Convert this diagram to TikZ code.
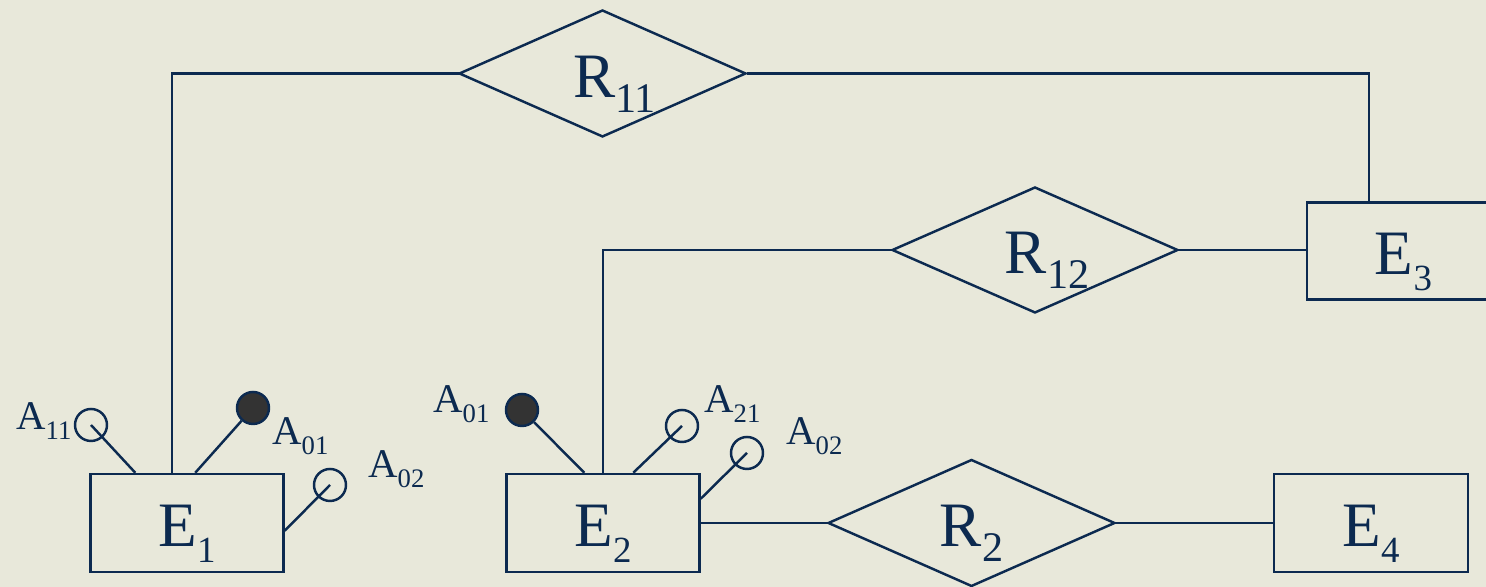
\documentclass[tikz,border=0pt]{standalone}
\usepackage{fontspec}
\setmainfont{Liberation Serif}
\usetikzlibrary{shapes.geometric}
\definecolor{navy}{RGB}{12,42,80}
\definecolor{paper}{RGB}{232,232,218}
\newlength{\attsize}
\setlength{\attsize}{0.32cm}
\newcommand{\entname}[2]{{\fontsize{18}{20}\selectfont #1}\raisebox{-0.16cm}{\fontsize{10.5}{12}\selectfont #2}}
\newcommand{\relname}[2]{{\fontsize{18}{20}\selectfont #1}\raisebox{-0.15cm}{\fontsize{12}{14}\selectfont #2}}
\newcommand{\attname}[1]{{\fontsize{11.6}{13}\selectfont A}\raisebox{-0.1cm}{\fontsize{7.6}{9}\selectfont #1}}

\begin{document}
\begin{tikzpicture}[line width=0.7pt,color=navy,
    entity/.style={draw,rectangle,minimum width=1.93cm,minimum height=0.98cm,inner sep=0,text height=0.58cm,text depth=0.1cm},
    relation/.style={draw,diamond,aspect=2.26,minimum width=2.87cm,minimum height=1.27cm,inner sep=0,text height=0.58cm,text depth=0.1cm},
    attribute/.style={draw,circle,minimum size=\attsize,inner sep=0},
    key/.style={attribute,fill=black!80},
    attlabel/.style={anchor=base west,inner sep=0}]
            \useasboundingbox (0,0) rectangle (14.86,5.87);
            \clip (0,0) rectangle (14.86,5.87);
            \fill[paper] (0,0) rectangle (14.86,5.87);
            % entities
            \node[entity] (e1) at (1.87,0.64) {\entname{E}{1}};
            \node[entity] (e2) at (6.03,0.64) {\entname{E}{2}};
            \node[entity,minimum height=0.97cm] (e3) at (14.035,3.36) {\entname{E}{3}};
            \node[entity,minimum width=1.94cm] (e4) at (13.71,0.64) {\entname{E}{4}};
            % relationships
            \node[relation] (r11) at (6.025,5.135) {\hspace*{0.24cm}\relname{R}{11}};
            \node[relation,minimum width=2.86cm,minimum height=1.26cm] (r12) at (10.35,3.37) {\hspace*{0.24cm}\relname{R}{12}};
            \node[relation] (r2) at (9.715,0.64) {\relname{R}{2}};
            \draw([xshift=0.05cm]r11.west) -| ([xshift=-0.15cm]e1.north);
            \draw(r11.east) -| ([xshift=0.63cm]e3.north west);
            \draw([xshift=0.05cm]r12.west) -| (e2.north);
            \draw(r12.east) -- (r12.east -| e3.west);
            \draw(e2.east) -- ([xshift=0.05cm]r2.west);
            \draw(r2.east) -- (r2.east -| e4.west);
            % attributes of E1
            \node[attribute] (a11) at (0.91,1.62){};
            \node[key] (a01) at (2.53,1.79){};
            \node[attribute] (a02) at (3.30,1.02){};
            \draw(a11.center)--([xshift=0.46cm]e1.north west);
            \draw(a01)--([xshift=1.06cm]e1.north west);
            \draw(a02.center)--([yshift=-0.58cm]e1.north east);
            \node[attlabel] (l11) at (0.15,1.57) {\attname{11}};
            \node[attlabel] (l01) at (2.71,1.42) {\attname{01}};
            \node[attlabel] (l02) at (3.67,1.09) {\attname{02}};
            % attributes of E2
            \node[key] (b01) at (5.22,1.77){};
            \node[attribute] (b21) at (6.82,1.61){};
            \node[attribute] (b02) at (7.47,1.34){};
            \draw(b01)--([xshift=0.79cm]e2.north west);
            \draw(b21.center)--([xshift=1.28cm]e2.north west);
            \draw(b02.center)--([yshift=-0.26cm]e2.north east);
            \node[attlabel] (m01) at (4.32,1.74) {\attname{01}};
            \node[attlabel] (m21) at (7.03,1.74) {\attname{21}};
            \node[attlabel] (m02) at (7.85,1.42) {\attname{02}};
\end{tikzpicture}
\end{document}
